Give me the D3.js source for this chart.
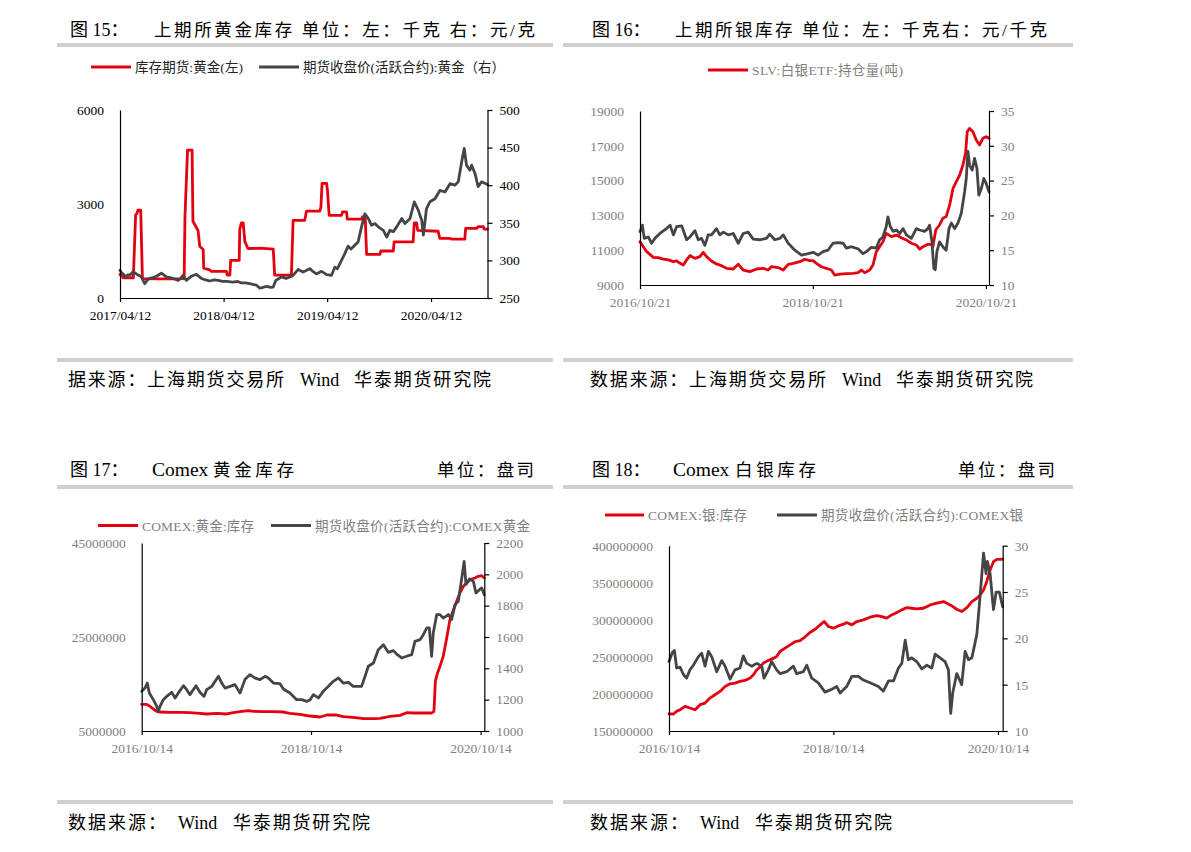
<!DOCTYPE html>
<html><head><meta charset="utf-8">
<script src="https://cdn.jsdelivr.net/npm/d3@7"></script>
<style>body{margin:0;background:#fff}</style>
</head><body><svg id="c" width="1191" height="852"></svg>
<script>
// ---------------- DATA ----------------
// Fig 15: SHFE gold inventory (kg, left) and SHFE gold active-contract close (yuan/g, right)
const p15Stock = [["2017-04-12",750],["2017-04-20",700],["2017-04-23",640],["2017-05-29",640],["2017-06-06",2650],["2017-06-11",2700],["2017-06-14",2800],["2017-06-24",2800],["2017-06-30",620],["2017-08-20",610],["2017-10-10",610],["2017-11-24",620],["2017-11-27",2600],["2017-12-06",4720],["2017-12-22",4720],["2017-12-25",2450],["2018-01-06",2250],["2018-01-12",2150],["2018-01-18",1650],["2018-01-30",1550],["2018-02-01",950],["2018-02-22",900],["2018-02-28",850],["2018-04-22",850],["2018-04-25",730],["2018-05-04",730],["2018-05-07",1200],["2018-06-06",1200],["2018-06-08",2200],["2018-06-14",2400],["2018-06-20",2400],["2018-06-26",1800],["2018-07-07",1580],["2018-08-18",1590],["2018-10-04",1560],["2018-10-09",730],["2018-12-07",730],["2018-12-13",2480],["2019-01-23",2480],["2019-01-29",2770],["2019-03-17",2770],["2019-03-21",2900],["2019-03-25",3660],["2019-04-10",3660],["2019-04-13",3440],["2019-04-19",2640],["2019-06-02",2640],["2019-06-05",2750],["2019-06-19",2750],["2019-06-22",2520],["2019-08-11",2520],["2019-08-15",2600],["2019-08-24",2600],["2019-08-29",1390],["2019-10-15",1390],["2019-10-18",1500],["2019-12-01",1500],["2019-12-04",1790],["2020-02-09",1790],["2020-02-13",2400],["2020-02-21",2400],["2020-02-25",2160],["2020-05-07",2130],["2020-05-13",1900],["2020-06-18",1900],["2020-06-23",1880],["2020-08-09",1880],["2020-08-12",2220],["2020-09-20",2220],["2020-09-25",2280],["2020-10-13",2280],["2020-10-16",2200],["2020-10-28",2200]];
const p15Price = [["2017-04-12",287],["2017-04-17",284],["2017-04-23",282],["2017-05-04",278],["2017-05-10",281],["2017-05-16",280],["2017-05-28",285],["2017-06-09",282],["2017-06-18",280],["2017-06-26",278],["2017-07-08",269],["2017-07-20",275],["2017-08-05",277],["2017-08-18",279],["2017-09-05",283],["2017-09-12",281],["2017-09-22",278],["2017-10-05",277],["2017-10-16",276],["2017-11-03",273.5],["2017-11-12",276],["2017-11-20",280],["2017-12-02",273.5],["2017-12-10",276],["2017-12-20",279],["2018-01-06",281.5],["2018-01-24",276],["2018-02-08",274],["2018-02-22",272.6],["2018-03-10",274],["2018-03-24",273.5],["2018-04-08",272],["2018-04-22",272],["2018-05-15",271],["2018-06-01",272],["2018-06-14",270],["2018-06-28",270],["2018-07-13",269],["2018-08-06",267],["2018-08-18",263],["2018-09-10",265.5],["2018-09-25",264],["2018-10-04",264.6],["2018-10-13",273.5],["2018-11-02",278],["2018-11-18",276],["2018-12-02",278],["2018-12-13",280],["2018-12-31",288],["2019-01-17",284.6],["2019-02-10",289],["2019-02-22",285],["2019-03-05",282],["2019-03-23",285.5],["2019-04-10",281],["2019-04-27",280],["2019-05-09",291],["2019-05-18",289],["2019-05-27",295.7],["2019-06-13",309],["2019-06-25",319],["2019-07-05",315],["2019-07-13",318],["2019-07-30",324.6],["2019-08-11",344.6],["2019-08-23",362],["2019-09-04",355.7],["2019-09-15",346.8],["2019-09-27",349],["2019-10-09",344.6],["2019-10-27",340],["2019-11-08",331],["2019-11-19",340],["2019-12-01",338],["2019-12-13",344.6],["2019-12-31",355.7],["2020-01-11",349],["2020-01-29",355.7],["2020-02-13",377.9],["2020-02-27",366.8],["2020-03-10",353.5],["2020-03-16",333.5],["2020-03-27",369],["2020-04-08",377.9],["2020-04-26",382],["2020-05-13",393],["2020-05-31",391],["2020-06-18",402],["2020-07-05",400],["2020-07-17",404.5],["2020-07-29",431],["2020-08-07",449],["2020-08-15",426.7],["2020-08-27",420],["2020-09-02",426.7],["2020-09-14",415.6],["2020-09-25",398],["2020-10-07",404.5],["2020-10-28",401]];
const p15XTicks = ["2017/04/12","2018/04/12","2019/04/12","2020/04/12"];
const p15LeftTicks = [0,3000,6000];
const p15RightTicks = [250,300,350,400,450,500];

// Fig 16: SLV holdings (left) and silver price (right)
const p16Slv = [["2016-10-21",11490],["2016-11-04",11200],["2016-11-18",10915],["2016-12-02",10760],["2016-12-16",10590],["2017-01-06",10570],["2017-01-27",10490],["2017-02-18",10440],["2017-03-11",10340],["2017-03-25",10380],["2017-04-08",10245],["2017-04-22",10150],["2017-05-06",10440],["2017-05-20",10690],["2017-06-10",10530],["2017-07-01",10630],["2017-07-15",10880],["2017-07-29",10630],["2017-08-19",10380],["2017-09-09",10210],["2017-09-30",10110],["2017-10-22",9960],["2017-11-19",9920],["2017-12-10",10190],["2017-12-31",9860],["2018-01-28",9770],["2018-02-25",9920],["2018-03-25",9960],["2018-04-15",9860],["2018-04-29",10050],["2018-05-27",10000],["2018-06-18",9860],["2018-07-09",10190],["2018-07-30",10245],["2018-08-27",10340],["2018-09-17",10475],["2018-10-08",10400],["2018-10-22",10400],["2018-11-05",10245],["2018-11-26",10050],["2018-12-17",9960],["2019-01-07",9860],["2019-01-21",9570],["2019-02-12",9630],["2019-03-12",9650],["2019-04-09",9670],["2019-04-30",9710],["2019-05-14",9860],["2019-05-28",9710],["2019-06-18",9860],["2019-07-02",10150],["2019-07-16",10915],["2019-07-30",11200],["2019-08-13",11490],["2019-08-27",11970],["2019-09-18",11780],["2019-10-09",11870],["2019-10-30",11720],["2019-11-20",11590],["2019-12-11",11400],["2020-01-01",11300],["2020-01-15",11070],["2020-01-29",11200],["2020-02-19",11340],["2020-03-04",11340],["2020-03-11",11200],["2020-03-23",12160],["2020-04-08",12450],["2020-04-22",12830],["2020-05-06",12930],["2020-05-21",13600],["2020-06-04",14560],["2020-06-18",14940],["2020-07-02",15320],["2020-07-16",15900],["2020-07-27",16570],["2020-08-03",17810],["2020-08-13",18000],["2020-08-27",17810],["2020-09-10",17330],["2020-09-24",17050],["2020-10-08",17430],["2020-10-22",17520],["2020-11-03",17430]];
const p16Price = [["2016-10-21",17.66],["2016-10-31",18.6],["2016-11-08",16.7],["2016-11-25",16.9],["2016-12-09",16.0],["2016-12-23",16.7],["2017-01-13",17.4],["2017-02-10",18.1],["2017-02-25",18.6],["2017-03-11",17.2],["2017-03-25",18.4],["2017-04-15",18.5],["2017-05-06",16.5],["2017-05-20",16.9],["2017-06-10",17.8],["2017-06-24",16.5],["2017-07-08",16.7],["2017-07-22",15.7],["2017-08-05",17.2],["2017-08-19",17.2],["2017-09-09",18.1],["2017-09-23",17.2],["2017-10-08",17.6],["2017-10-29",17.2],["2017-11-19",17.4],["2017-12-10",16.0],["2017-12-31",17.4],["2018-01-21",17.6],["2018-02-11",16.6],["2018-03-11",16.5],["2018-04-08",16.7],["2018-04-22",17.3],["2018-05-13",16.5],["2018-06-04",16.7],["2018-06-18",17.2],["2018-07-09",16.0],["2018-08-06",15.0],["2018-09-03",14.3],["2018-10-01",14.5],["2018-10-22",14.7],["2018-11-12",14.3],["2018-12-03",14.8],["2018-12-24",15.0],["2019-01-14",16.0],["2019-02-05",16.1],["2019-02-26",16.0],["2019-03-12",15.3],["2019-04-02",15.5],["2019-04-30",15.2],["2019-05-21",14.5],["2019-06-04",14.8],["2019-06-25",15.4],["2019-07-16",15.3],["2019-07-30",16.5],["2019-08-13",16.9],["2019-08-27",18.4],["2019-09-03",19.8],["2019-09-13",18.4],["2019-09-25",17.7],["2019-10-09",17.9],["2019-10-23",17.4],["2019-11-06",18.1],["2019-11-20",17.2],["2019-12-11",16.7],["2020-01-01",18.1],["2020-01-15",17.9],["2020-02-05",17.7],["2020-02-19",18.1],["2020-02-26",18.6],["2020-03-07",16.2],["2020-03-15",12.4],["2020-03-21",12.2],["2020-03-28",14.8],["2020-04-08",16.2],["2020-04-22",15.5],["2020-05-06",15.0],["2020-05-18",18.1],["2020-05-28",18.9],["2020-06-11",18.1],["2020-06-25",18.9],["2020-07-09",20.3],["2020-07-23",23.4],["2020-07-30",25.3],["2020-08-06",29.2],["2020-08-13",27.2],["2020-08-24",26.5],["2020-09-03",28.2],["2020-09-13",26.8],["2020-09-21",22.9],["2020-10-02",23.9],["2020-10-12",25.3],["2020-10-22",24.6],["2020-11-03",23.4]];
const p16XTicks = ["2016/10/21","2018/10/21","2020/10/21"];
const p16LeftTicks = [9000,11000,13000,15000,17000,19000];
const p16RightTicks = [10,15,20,25,30,35];

// Fig 17: COMEX gold inventory (left) and COMEX gold price (right)
const p17Stock = [["2016-10-14",10670000],["2016-11-05",10670000],["2016-11-19",10250000],["2016-12-03",9680000],["2016-12-18",9180000],["2017-01-01",9040000],["2017-02-13",8970000],["2017-03-28",8970000],["2017-05-10",8900000],["2017-06-22",8760000],["2017-07-21",8620000],["2017-09-02",8760000],["2017-10-15",8620000],["2017-11-13",8900000],["2017-12-19",9180000],["2018-01-17",9330000],["2018-02-07",9180000],["2018-03-22",9110000],["2018-05-05",9110000],["2018-06-17",9040000],["2018-07-15",8760000],["2018-08-28",8550000],["2018-10-10",8190000],["2018-11-22",7980000],["2018-12-21",8400000],["2019-02-02",8400000],["2019-03-02",8050000],["2019-04-14",7910000],["2019-05-28",7620000],["2019-07-10",7620000],["2019-08-07",7700000],["2019-09-20",8120000],["2019-11-02",8330000],["2019-11-30",8900000],["2019-12-29",8830000],["2020-02-10",8830000],["2020-03-17",8830000],["2020-03-27",9200000],["2020-04-02",15600000],["2020-04-11",17300000],["2020-04-22",18760000],["2020-05-06",20900000],["2020-05-21",24800000],["2020-06-04",28700000],["2020-06-19",30800000],["2020-07-03",32600000],["2020-07-17",34400000],["2020-08-01",35800000],["2020-08-15",36500000],["2020-08-29",37200000],["2020-09-20",37550000],["2020-10-04",37900000],["2020-10-19",38050000],["2020-10-30",37550000]];
const p17Price = [["2016-10-14",1253],["2016-10-28",1274],["2016-11-07",1306],["2016-11-16",1243],["2016-12-03",1200],["2016-12-18",1157],["2016-12-25",1126],["2017-01-01",1157],["2017-01-15",1200],["2017-01-30",1221],["2017-02-20",1247],["2017-03-07",1211],["2017-03-21",1243],["2017-04-12",1289],["2017-04-26",1264],["2017-05-10",1232],["2017-06-05",1289],["2017-06-22",1247],["2017-07-10",1221],["2017-07-21",1264],["2017-08-12",1285],["2017-09-10",1349],["2017-09-24",1306],["2017-10-08",1274],["2017-10-30",1285],["2017-11-20",1296],["2017-12-12",1243],["2018-01-02",1328],["2018-01-24",1360],["2018-02-15",1338],["2018-03-08",1328],["2018-03-30",1349],["2018-04-13",1338],["2018-05-05",1306],["2018-06-02",1302],["2018-06-17",1268],["2018-07-15",1243],["2018-08-13",1200],["2018-09-04",1200],["2018-09-25",1189],["2018-10-10",1200],["2018-10-24",1232],["2018-11-15",1211],["2018-12-06",1253],["2018-12-28",1285],["2019-01-18",1317],["2019-02-09",1338],["2019-03-02",1306],["2019-03-24",1311],["2019-04-14",1285],["2019-05-20",1285],["2019-06-04",1349],["2019-06-18",1413],["2019-07-10",1434],["2019-07-31",1519],["2019-08-22",1551],["2019-09-12",1502],["2019-10-04",1513],["2019-10-21",1487],["2019-11-09",1466],["2019-11-30",1477],["2019-12-22",1487],["2020-01-05",1572],["2020-01-27",1583],["2020-02-10",1615],["2020-02-25",1658],["2020-03-07",1658],["2020-03-17",1477],["2020-03-24",1626],["2020-04-08",1743],["2020-04-22",1743],["2020-05-06",1721],["2020-05-28",1743],["2020-06-11",1711],["2020-06-26",1807],["2020-07-10",1828],["2020-07-24",1966],["2020-08-04",2083],["2020-08-12",1936],["2020-08-27",1970],["2020-09-13",1955],["2020-09-24",1881],["2020-10-09",1902],["2020-10-19",1913],["2020-10-30",1870]];
const p17XTicks = ["2016/10/14","2018/10/14","2020/10/14"];
const p17LeftTicks = [5000000,25000000,45000000];
const p17RightTicks = [1000,1200,1400,1600,1800,2000,2200];

// Fig 18: COMEX silver inventory (left) and COMEX silver price (right)
const p18Stock = [["2016-10-14",173300000],["2016-11-02",172900000],["2016-11-17",176500000],["2016-12-02",178700000],["2016-12-24",183200000],["2017-01-15",181000000],["2017-02-07",178700000],["2017-03-01",185500000],["2017-03-23",187700000],["2017-04-14",194400000],["2017-05-06",198900000],["2017-05-29",203400000],["2017-06-20",210100000],["2017-07-12",213700000],["2017-08-03",214600000],["2017-08-25",216900000],["2017-09-17",218200000],["2017-10-09",221400000],["2017-10-24",225900000],["2017-11-08",232600000],["2017-11-22",236200000],["2017-12-07",241600000],["2017-12-29",245200000],["2018-01-21",248300000],["2018-02-04",250500000],["2018-02-19",257300000],["2018-03-13",261800000],["2018-04-05",266200000],["2018-04-27",270700000],["2018-05-19",272000000],["2018-06-03",275200000],["2018-07-02",282900000],["2018-07-25",287300000],["2018-08-16",293200000],["2018-09-03",297700000],["2018-09-22",291000000],["2018-10-14",288700000],["2018-11-05",291800000],["2018-11-28",294100000],["2018-12-12",296300000],["2019-01-04",293200000],["2019-01-26",297700000],["2019-02-24",299900000],["2019-03-26",303500000],["2019-04-25",305700000],["2019-05-17",304400000],["2019-06-08",302200000],["2019-06-30",306600000],["2019-07-23",309800000],["2019-08-14",313400000],["2019-09-05",316500000],["2019-09-27",315600000],["2019-10-19",314700000],["2019-11-18",315600000],["2019-12-18",320100000],["2020-01-16",322400000],["2020-02-15",324600000],["2020-03-01",322400000],["2020-03-23",318800000],["2020-04-14",314300000],["2020-05-06",311100000],["2020-05-29",316500000],["2020-06-20",324600000],["2020-07-12",329100000],["2020-07-27",333600000],["2020-08-11",340300000],["2020-08-25",351500000],["2020-09-09",367200000],["2020-09-24",378400000],["2020-10-09",381600000],["2020-10-24",381600000],["2020-11-04",382000000]];
const p18Price = [["2016-10-14",17.5],["2016-10-29",18.47],["2016-11-07",18.7],["2016-11-17",16.8],["2016-12-02",16.9],["2016-12-17",16.1],["2016-12-31",15.7],["2017-01-15",16.6],["2017-01-30",17.1],["2017-02-21",18.0],["2017-03-08",18.4],["2017-03-23",17.0],["2017-04-07",18.6],["2017-04-22",18.0],["2017-05-14",16.4],["2017-06-05",17.6],["2017-06-20",17.0],["2017-07-12",15.6],["2017-08-03",16.6],["2017-08-25",16.8],["2017-09-09",18.1],["2017-09-24",17.3],["2017-10-16",17.0],["2017-11-08",17.3],["2017-11-30",17.0],["2017-12-10",15.7],["2017-12-29",16.6],["2018-01-13",17.5],["2018-02-04",16.6],["2018-02-19",16.2],["2018-03-21",16.4],["2018-04-19",17.0],["2018-05-04",16.2],["2018-06-03",16.4],["2018-06-18",17.1],["2018-07-10",15.7],["2018-08-08",15.2],["2018-09-07",14.2],["2018-10-07",14.5],["2018-10-29",14.8],["2018-11-13",14.1],["2018-12-12",14.8],["2019-01-04",15.9],["2019-02-02",15.9],["2019-02-24",15.5],["2019-03-26",15.2],["2019-05-02",14.8],["2019-05-24",14.3],["2019-06-16",15.4],["2019-07-08",15.4],["2019-07-30",16.8],["2019-08-14",17.3],["2019-08-29",19.8],["2019-09-12",17.7],["2019-09-27",17.9],["2019-10-19",17.5],["2019-11-11",16.7],["2019-12-03",17.1],["2019-12-25",16.8],["2020-01-09",18.3],["2020-01-31",17.9],["2020-02-22",17.5],["2020-03-08",16.6],["2020-03-18",11.9],["2020-03-27",14.1],["2020-04-14",16.2],["2020-05-06",15.0],["2020-05-21",18.6],["2020-06-05",17.7],["2020-06-20",17.9],["2020-07-12",20.4],["2020-07-27",24.7],["2020-08-11",29.2],["2020-08-22",27.0],["2020-08-28",28.3],["2020-09-09",27.0],["2020-09-24",23.1],["2020-10-06",25.0],["2020-10-20",25.0],["2020-11-04",23.4]];
const p18XTicks = ["2016/10/14","2018/10/14","2020/10/14"];
const p18LeftTicks = [150000000,200000000,250000000,300000000,350000000,400000000];
const p18RightTicks = [10,15,20,25,30];

// ---------------- DRAWING ----------------
const svg = d3.select("#c");
svg.append("rect").attr("width",1191).attr("height",852).attr("fill","#fff");
const FONT = '"Liberation Serif","Times New Roman","Noto Sans CJK SC",serif';
const parse = d3.timeParse("%Y-%m-%d");
const parseTick = d3.timeParse("%Y/%m/%d");
const RED = "#e3000f", GRAY = "#454545", LABELGRAY = "#7f7f7f", BAR = "#d0d0d0";

function txt(x, y, s, o) {
  const t = svg.append("text").attr("x", x).attr("y", y).text(s)
    .attr("font-family", FONT).attr("font-size", o.size).attr("fill", o.color || "#000")
    .attr("text-anchor", o.anchor || "start");
  if (o.len) t.attr("textLength", o.len).attr("lengthAdjust", "spacing");
  return t;
}
function bar(x, y, w) { svg.append("rect").attr("x", x).attr("y", y).attr("width", w).attr("height", 4).attr("fill", BAR); }

function panel(c) {
  const x = d3.scaleTime().domain(c.xDomain.map(parse)).range([c.l, c.r]);
  const yL = d3.scaleLinear().domain(c.yL).range([c.b, c.t]);
  const yR = d3.scaleLinear().domain(c.yR).range([c.b, c.t]);
  c.series.forEach(s => {
    const y = s.axis === "L" ? yL : yR;
    svg.append("path").datum(s.data)
      .attr("d", d3.line().x(d => x(parse(d[0]))).y(d => y(d[1])))
      .attr("fill", "none").attr("stroke", s.color).attr("stroke-width", 2.8)
      .attr("stroke-linejoin", "round").attr("stroke-linecap", "round");
  });
  const style = g => {
    g.attr("font-family", FONT).attr("font-size", 13.5);
    g.selectAll("text").attr("fill", c.labelColor);
    g.selectAll("path,line").attr("stroke", "#000").attr("stroke-width", 1.2);
  };
  svg.append("g").attr("transform", `translate(${c.l},0)`)
    .call(d3.axisLeft(yL).tickValues(c.yLTicks).tickSize(0).tickSizeOuter(0).tickPadding(16).tickFormat(d3.format("d")))
    .call(style);
  svg.append("g").attr("transform", `translate(${c.r},0)`)
    .call(d3.axisRight(yR).tickValues(c.yRTicks).tickSize(5).tickSizeOuter(0).tickPadding(7).tickFormat(d3.format("d")))
    .call(style);
  svg.append("g").attr("transform", `translate(0,${c.b})`)
    .call(d3.axisBottom(x).tickValues(c.xTicks.map(parseTick)).tickSize(4).tickSizeOuter(0).tickPadding(8).tickFormat(d3.timeFormat("%Y/%m/%d")))
    .call(style);
}

panel({l:120,r:487.5,t:110,b:298,xDomain:["2017-04-12","2020-10-28"],yL:[0,6000],yR:[250,500],
  yLTicks:p15LeftTicks,yRTicks:p15RightTicks,xTicks:p15XTicks,labelColor:"#000",
  series:[{data:p15Stock,axis:"L",color:RED},{data:p15Price,axis:"R",color:GRAY}]});
panel({l:640,r:989,t:111,b:285,xDomain:["2016-10-21","2020-11-03"],yL:[9000,19000],yR:[10,35],
  yLTicks:p16LeftTicks,yRTicks:p16RightTicks,xTicks:p16XTicks,labelColor:LABELGRAY,
  series:[{data:p16Slv,axis:"L",color:RED},{data:p16Price,axis:"R",color:GRAY}]});
panel({l:141.7,r:484.3,t:543,b:731,xDomain:["2016-10-14","2020-10-30"],yL:[5000000,45000000],yR:[1000,2200],
  yLTicks:p17LeftTicks,yRTicks:p17RightTicks,xTicks:p17XTicks,labelColor:LABELGRAY,
  series:[{data:p17Stock,axis:"L",color:RED},{data:p17Price,axis:"R",color:GRAY}]});
panel({l:669,r:1002.7,t:545.7,b:731,xDomain:["2016-10-14","2020-11-04"],yL:[150000000,400000000],yR:[10,30],
  yLTicks:p18LeftTicks,yRTicks:p18RightTicks,xTicks:p18XTicks,labelColor:LABELGRAY,
  series:[{data:p18Stock,axis:"L",color:RED},{data:p18Price,axis:"R",color:GRAY}]});

// titles & separator bars
bar(57,43,496); bar(563,43,510); bar(57,485,496); bar(563,485,510);
bar(57,358,496); bar(563,358,510); bar(57,800,496); bar(563,800,510);
txt(70,35.5,"图 15：",{size:18});
txt(154,35.5,"上期所黄金库存 单位：左：千克 右：元/克",{size:17.5,len:381});
txt(592,35.5,"图 16：",{size:18});
txt(675,35.5,"上期所银库存 单位：左：千克右：元/千克",{size:17.5,len:372});
txt(70,476,"图 17：",{size:18});
txt(152,476,"Comex",{size:19.5});
txt(213,476,"黄金库存",{size:17.5,len:81});
txt(437,476,"单位：盘司",{size:17.5,len:97});
txt(592,476,"图 18：",{size:18});
txt(673,476,"Comex",{size:19.5});
txt(735,476,"白银库存",{size:17.5,len:81});
txt(958,476,"单位：盘司",{size:17.5,len:97});

// legends
function leg(x1, x2, y, color, label, tx, len, tcolor) {
  svg.append("line").attr("x1", x1).attr("x2", x2).attr("y1", y).attr("y2", y).attr("stroke", color).attr("stroke-width", 3);
  txt(tx, y + 5, label, {size:13.5, color:tcolor, len:len});
}
leg(91,131,67,RED,"库存期货:黄金(左)",135,108,"#222");
leg(259,299,67,GRAY,"期货收盘价(活跃合约):黄金（右）",303,202,"#222");
leg(708,748,70,RED,"SLV:白银ETF:持仓量(吨)",752,151,LABELGRAY);
leg(98,138,525.5,RED,"COMEX:黄金:库存",142,112,LABELGRAY);
leg(271,311,525.5,GRAY,"期货收盘价(活跃合约):COMEX黄金",315,215,LABELGRAY);
leg(605,644,515,RED,"COMEX:银:库存",648,99,LABELGRAY);
leg(777,817,515,GRAY,"期货收盘价(活跃合约):COMEX银",821,202,LABELGRAY);

// sources
txt(68,386,"据来源：上海期货交易所",{size:18,len:216});
txt(300,386,"Wind",{size:18});
txt(354,386,"华泰期货研究院",{size:18,len:137});
txt(590,386,"数据来源：上海期货交易所",{size:18,len:236});
txt(842,386,"Wind",{size:18});
txt(896,386,"华泰期货研究院",{size:18,len:137});
txt(68,829,"数据来源：",{size:18,len:98});
txt(178,829,"Wind",{size:18});
txt(233,829,"华泰期货研究院",{size:18,len:137});
txt(590,829,"数据来源：",{size:18,len:98});
txt(700,829,"Wind",{size:18});
txt(755,829,"华泰期货研究院",{size:18,len:137});
</script></body></html>
